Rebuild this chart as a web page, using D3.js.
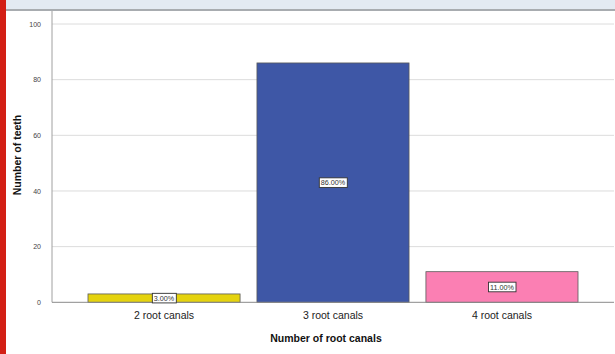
<!DOCTYPE html>
<html>
<head>
<meta charset="utf-8">
<script src="https://cdn.jsdelivr.net/npm/d3@7/dist/d3.min.js"></script>
<style>
  html, body { margin: 0; padding: 0; background: #fff; }
  svg { display: block; font-family: "Liberation Sans", Arial, sans-serif; }
</style>
</head>
<body>
<svg id="chart" width="615" height="354"></svg>
<script>
// Teeth grouped by number of root canals
const categories = ["2 root canals", "3 root canals", "4 root canals"];
const counts = [3, 86, 11];
const percentLabels = ["3.00%", "86.00%", "11.00%"];
const barColors = ["#e5d30e", "#3e57a6", "#fb7fb3"];
const yTicks = [0, 20, 40, 60, 80, 100];

const svg = d3.select("#chart");
const W = 615, H = 354;

// window chrome: header band and side stripe
svg.append("rect").attr("x", 0).attr("y", 0).attr("width", W).attr("height", 9).attr("fill", "#e3eaf2");
svg.append("rect").attr("x", 0).attr("y", 9).attr("width", W).attr("height", 2).attr("fill", "#a8acb0");

const x = d3.scaleBand()
  .domain(categories)
  .range([52, 614])
  .paddingInner(0.1)
  .paddingOuter(0.213);

const y = d3.scaleLinear().domain([0, 100]).range([302.3, 24]);

// horizontal gridlines
svg.append("g")
  .selectAll("line")
  .data(yTicks.filter(d => d > 0))
  .join("line")
  .attr("x1", 52).attr("x2", 614)
  .attr("y1", d => y(d)).attr("y2", d => y(d))
  .attr("stroke", "#dcdcdc").attr("stroke-width", 1);

// y axis
const yAxis = svg.append("g")
  .attr("transform", "translate(52,0)")
  .call(d3.axisLeft(y).tickValues(yTicks).tickSize(0).tickPadding(11));
yAxis.select(".domain").remove();
yAxis.selectAll("text").attr("font-size", 7).attr("fill", "#444").attr("font-family", "Liberation Sans, Arial, sans-serif");
svg.append("line").attr("x1", 52).attr("x2", 52).attr("y1", 11).attr("y2", y(0))
  .attr("stroke", "#a0a0a0").attr("stroke-width", 1);

// bars
svg.append("g")
  .selectAll("rect")
  .data(counts)
  .join("rect")
  .attr("x", (d, i) => x(categories[i]))
  .attr("width", x.bandwidth())
  .attr("y", d => y(d))
  .attr("height", d => y(0) - y(d))
  .attr("fill", (d, i) => barColors[i])
  .attr("stroke", "#5a5a5a").attr("stroke-width", 0.8);

// baseline
svg.append("line").attr("x1", 52).attr("x2", 614).attr("y1", y(0)).attr("y2", y(0))
  .attr("stroke", "#8a8a8a").attr("stroke-width", 1);

// value labels in boxes
const lab = svg.append("g").selectAll("g")
  .data(counts)
  .join("g")
  .attr("transform", (d, i) => `translate(${x(categories[i]) + x.bandwidth() / 2},${(y(d) + y(0)) / 2})`);
lab.each(function(d, i) {
  const g = d3.select(this);
  const t = g.append("text")
    .attr("text-anchor", "middle").attr("dy", "0.35em")
    .attr("font-size", 7.2).attr("fill", "#333")
    .text(percentLabels[i]);
  const bb = t.node().getBBox();
  g.insert("rect", "text")
    .attr("x", bb.x - 1.5).attr("y", -4.8)
    .attr("width", bb.width + 3).attr("height", 9.6)
    .attr("fill", "#fff").attr("stroke", "#333").attr("stroke-width", 0.9);
});

// x axis category labels
svg.append("g").selectAll("text")
  .data(categories)
  .join("text")
  .attr("x", d => x(d) + x.bandwidth() / 2)
  .attr("y", 318.5)
  .attr("text-anchor", "middle")
  .attr("font-size", 10.5).attr("fill", "#222")
  .text(d => d);

// axis titles
svg.append("text")
  .attr("x", 326).attr("y", 342)
  .attr("text-anchor", "middle")
  .attr("font-size", 10.5).attr("font-weight", "bold").attr("fill", "#111")
  .text("Number of root canals");

svg.append("text")
  .attr("transform", "translate(21,155) rotate(-90)")
  .attr("text-anchor", "middle")
  .attr("font-size", 10.5).attr("font-weight", "bold").attr("fill", "#111")
  .text("Number of teeth");

// red side stripe
svg.append("rect").attr("x", 0).attr("y", 0).attr("width", 6).attr("height", H).attr("fill", "#d31f15");
</script>
</body>
</html>
